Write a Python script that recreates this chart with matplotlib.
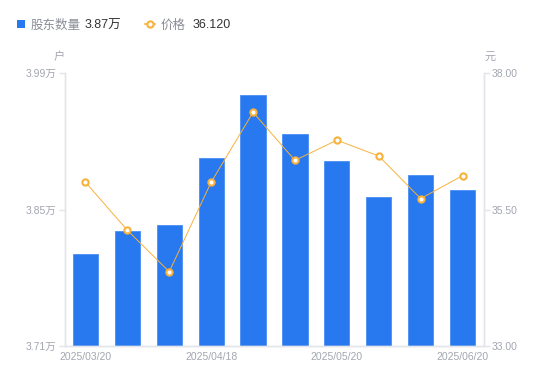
import matplotlib
matplotlib.use("Agg")
import matplotlib.pyplot as plt
from matplotlib.lines import Line2D
import numpy as np

plt.rcParams['font.family'] = ['Liberation Sans', 'Noto Sans CJK SC', 'DejaVu Sans']

# data
holders = [3.804, 3.828, 3.834, 3.903, 3.967, 3.927, 3.900, 3.863, 3.885, 3.870]  # 万户
price = [36.00, 35.12, 34.36, 36.00, 37.28, 36.40, 36.77, 36.48, 35.70, 36.12]
tick_idx = [0, 3, 6, 9]
tick_labels = ['2025/03/20', '2025/04/18', '2025/05/20', '2025/06/20']
left_ticks = [3.71, 3.85, 3.99]
right_ticks = [33.00, 35.50, 38.00]

BLUE = '#2878f0'
ORANGE = '#f7b23b'
GRAY_TXT = '#a3a6b0'
AXIS = '#e3e5ea'

fig = plt.figure(figsize=(5.5, 3.81), dpi=100)
ax = fig.add_axes([64.5/550, 35/381, 419/550, 273/381])
ax2 = ax.twinx()

x = np.arange(len(holders))
ax.bar(x, holders, width=0.6, color=BLUE, edgecolor='#4a8ff5', linewidth=0.6, zorder=2)
ax.set_xlim(-0.5, len(holders) - 0.5)
ax.set_ylim(left_ticks[0], left_ticks[-1])
ax.set_yticks(left_ticks)
ax.set_yticklabels([f'{v:.2f}万' for v in left_ticks])

ax2.plot(x, price, color=ORANGE, linewidth=0.7, marker='o', markersize=4.5,
         markerfacecolor='white', markeredgecolor=ORANGE, markeredgewidth=1.5, zorder=3)
ax2.set_ylim(right_ticks[0], right_ticks[-1])
ax2.set_yticks(right_ticks)
ax2.set_yticklabels([f'{v:.2f}' for v in right_ticks])

ax.set_xticks(tick_idx)
ax.set_xticklabels(tick_labels)

for a in (ax, ax2):
    for s in a.spines.values():
        s.set_color(AXIS)
        s.set_linewidth(1)
    a.spines['top'].set_visible(False)
    a.tick_params(axis='y', colors=AXIS, labelcolor=GRAY_TXT, labelsize=7.5, length=4, width=1, pad=2)
    a.tick_params(axis='x', length=0, labelcolor=GRAY_TXT, labelsize=7.5, pad=4)
ax.set_zorder(ax2.get_zorder() - 1)
ax2.patch.set_visible(False)
ax.patch.set_visible(True)

fig.text(59/550, 1 - 57/381, '户', fontsize=8, color=GRAY_TXT, ha='center', va='center')
fig.text(490/550, 1 - 57/381, '元', fontsize=8, color=GRAY_TXT, ha='center', va='center')

# legend
ly = 1 - 24/381
fig.patches.append(plt.Rectangle((17/550, 1 - 28/381), 8/550, 8/381, transform=fig.transFigure,
                                 facecolor=BLUE, edgecolor='none'))
fig.text(31/550, ly, '股东数量', fontsize=9, color='#8a8d96', va='center_baseline', ha='left')
fig.text(85/550, ly, f'{holders[-1]:.2f}万', fontsize=9, color='#333333', va='center_baseline', ha='left')
fig.lines.append(Line2D([145/550, 155/550], [ly, ly], transform=fig.transFigure,
                        color=ORANGE, linewidth=1.2))
fig.lines.append(Line2D([150/550], [ly], transform=fig.transFigure, marker='o', markersize=4.5,
                        markerfacecolor='white', markeredgecolor=ORANGE, markeredgewidth=1.5))
fig.text(161/550, ly, '价格', fontsize=9, color='#8a8d96', va='center_baseline', ha='left')
fig.text(193/550, ly, f'{price[-1]:.3f}', fontsize=9, color='#333333', va='center_baseline', ha='left')

fig.savefig('out.png', dpi=100)
